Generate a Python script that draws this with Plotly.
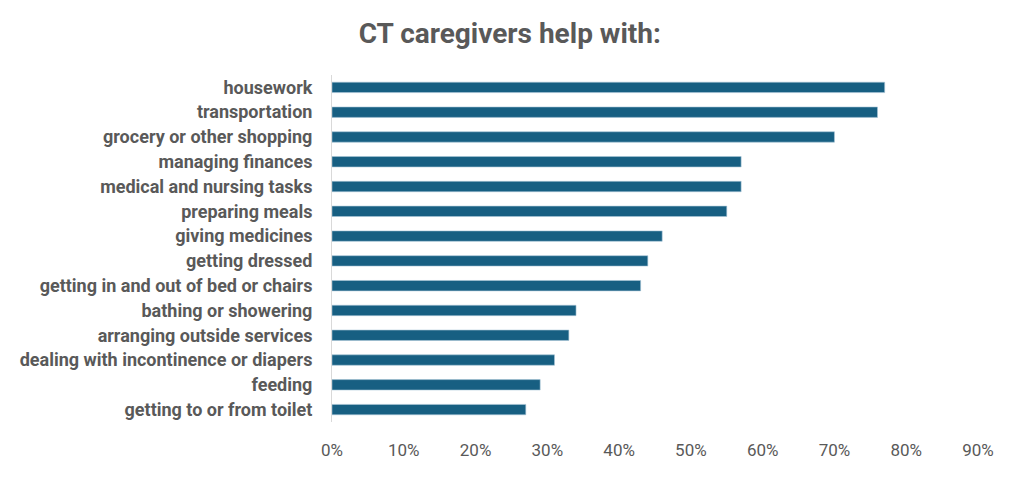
import plotly.graph_objects as go

# share of CT caregivers helping with each task
tasks = [
    "housework",
    "transportation",
    "grocery or other shopping",
    "managing finances",
    "medical and nursing tasks",
    "preparing meals",
    "giving medicines",
    "getting dressed",
    "getting in and out of bed or chairs",
    "bathing or showering",
    "arranging outside services",
    "dealing with incontinence or diapers",
    "feeding",
    "getting to or from toilet",
]
shares = [0.77, 0.76, 0.70, 0.57, 0.57, 0.55, 0.46, 0.44, 0.43, 0.34, 0.33, 0.31, 0.29, 0.27]

x_ticks = [0, 0.1, 0.2, 0.3, 0.4, 0.5, 0.6, 0.7, 0.8, 0.9]

grey = "#595959"
font_name = "Roboto, Arial, sans-serif"

fig = go.Figure(go.Bar(
    x=shares,
    y=tasks,
    orientation="h",
    width=0.42,
    marker=dict(color="#175f82", line=dict(color="#a9c6d6", width=0.6)),
    hovertemplate="%{y}: %{x:.0%}<extra></extra>",
))

# page body adds 8px, so margins are shifted by that
fig.update_layout(
    title=dict(text="<b>CT caregivers help with:</b>", x=0.49, xref="container", xanchor="center",
               y=0.948, yref="container", yanchor="middle",
               font=dict(size=28, color=grey, family=font_name)),
    width=1024, height=478,
    margin=dict(l=322, r=54, t=67, b=64),
    plot_bgcolor="white", paper_bgcolor="white",
    showlegend=False,
)
fig.update_xaxes(range=[0, 0.9], tickvals=x_ticks, tickformat=".0%",
                 showgrid=False, zeroline=False, showline=False,
                 ticklabelstandoff=16,
                 tickfont=dict(size=17, color=grey, family=font_name))
fig.update_yaxes(autorange="reversed", showgrid=False, showline=True,
                 linecolor="#d9d9d9", linewidth=1, ticks="",
                 ticklabelstandoff=15,
                 tickfont=dict(size=18, color=grey, family=font_name),
                 tickprefix="<b>", ticksuffix="</b>")

fig.write_html("out.html")
